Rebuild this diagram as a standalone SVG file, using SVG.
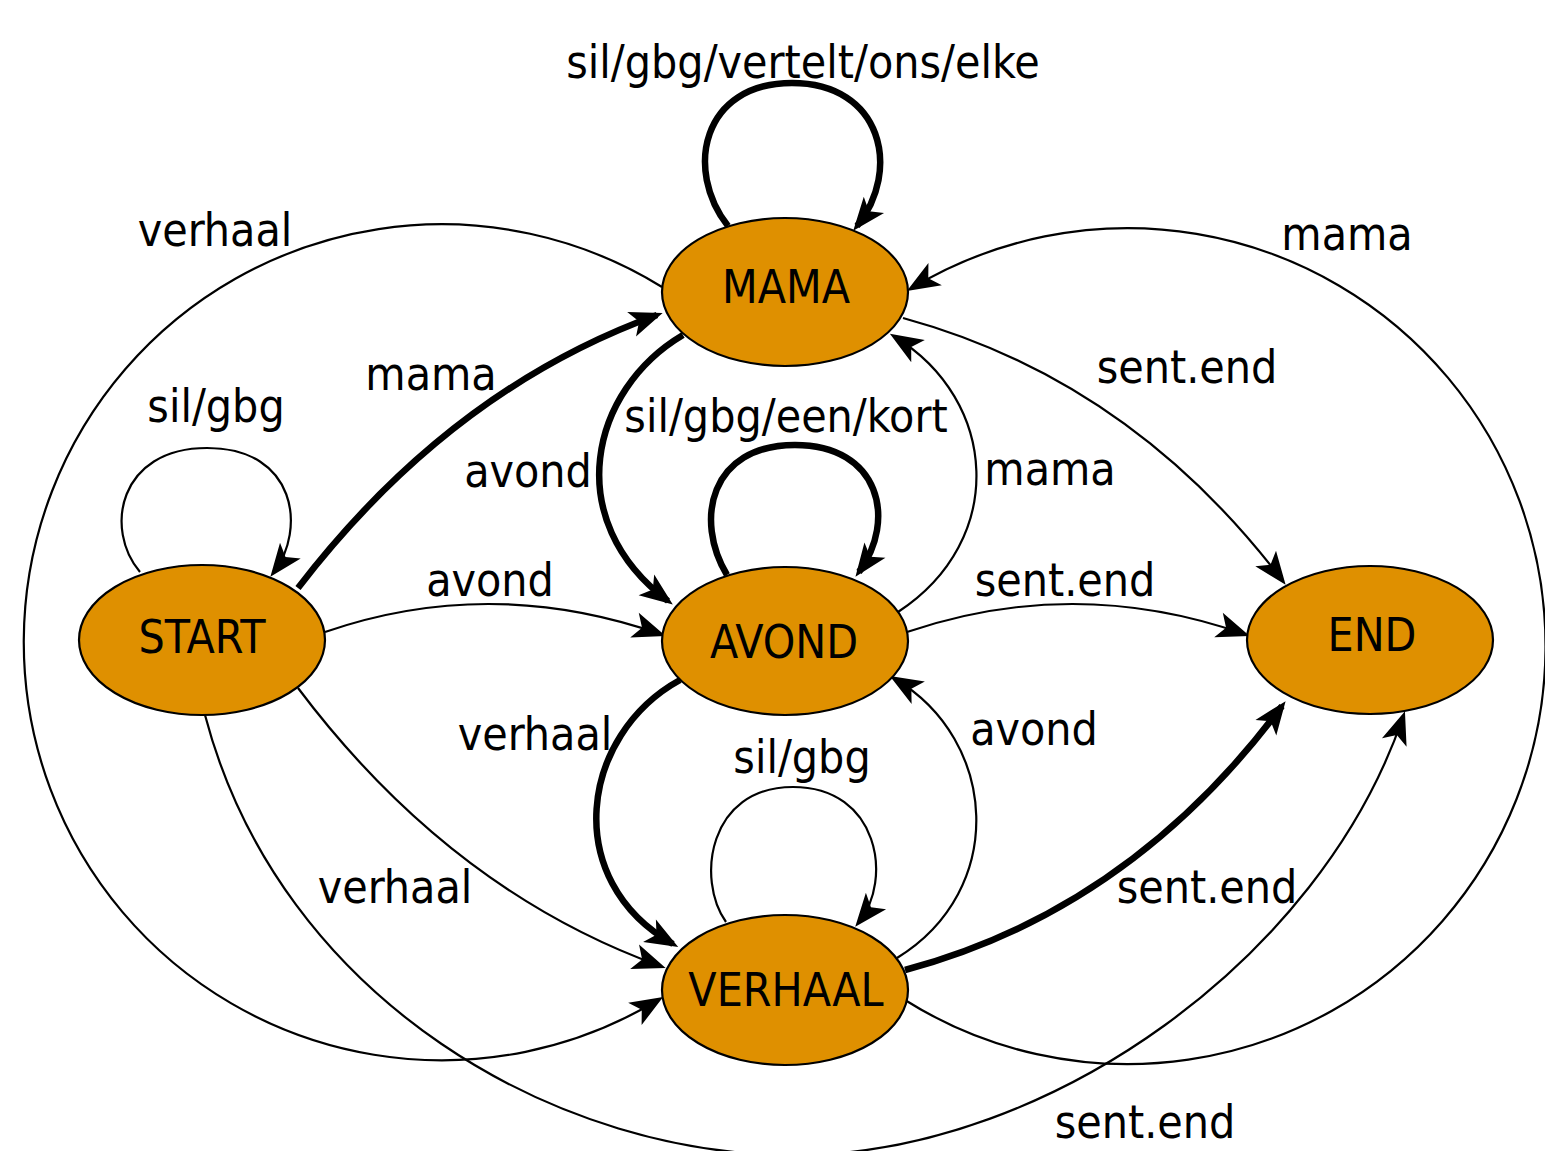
<svg xmlns="http://www.w3.org/2000/svg" width="1545" height="1151" viewBox="0 0 1545 1151">
<style>
  .node { fill: #DF9000; stroke: #000; stroke-width: 2.2; }
  .nlabel { font-family: 'DejaVu Sans Condensed', 'DejaVu Sans', sans-serif; font-size: 46px; fill: #000; text-anchor: middle; }
  .elabel { font-family: 'DejaVu Sans Condensed', 'DejaVu Sans', sans-serif; font-size: 46px; fill: #000; text-anchor: middle; }
  .thin { fill: none; stroke: #000; stroke-width: 2.2; marker-end: url(#arrow); }
  .thick { fill: none; stroke: #000; stroke-width: 6.5; marker-end: url(#arrow); }
</style>
<defs>
  <marker id="arrow" markerUnits="userSpaceOnUse" orient="auto" refX="0" refY="0" markerWidth="60" markerHeight="60" viewBox="-40 -20 60 40" overflow="visible">
    <path d="M6,0 L-27,-13 L-19,0 L-27,13 Z" fill="#000"/>
  </marker>
</defs>
<rect width="1545" height="1151" fill="#fff"/>
<g id="connectors">
  <!-- big left: MAMA -> VERHAAL -->
  <path class="thin" d="M662,287 A418,418 0 1,0 658,1000"/>
  <!-- big right: VERHAAL -> MAMA -->
  <path class="thin" d="M905,1000 A418,418 0 1,0 912,288"/>
  <!-- START -> END bottom -->
  <path class="thin" d="M205,715 C280,1000 560,1160 805,1155 C1050,1150 1320,960 1403,717"/>
  <!-- self loops -->
  <path class="thick" d="M728,226 C684,170 702,83 792,83 C882,83 902,170 857,226"/>
  <path class="thick" d="M727,575 C694,520 710,445 795,445 C880,445 897,520 859,572"/>
  <path class="thin" d="M140,572 C104,530 118,448 207,448 C297,448 306,530 274,572"/>
  <path class="thin" d="M726,922 C696,880 708,787 793,787 C879,787 893,880 859,922"/>
  <!-- START -> MAMA -->
  <path class="thick" d="M298,588 Q450,390 657,315"/>
  <!-- START -> AVOND -->
  <path class="thin" d="M325,632 Q490,575 660,634"/>
  <!-- START -> VERHAAL -->
  <path class="thin" d="M298,688 Q450,890 660,966"/>
  <!-- MAMA -> AVOND -->
  <path class="thick" d="M683,335 C590,390 560,520 668,601"/>
  <!-- AVOND -> MAMA -->
  <path class="thin" d="M898,612 C1008,540 998,400 895,337"/>
  <!-- AVOND -> VERHAAL -->
  <path class="thick" d="M680,680 C580,735 560,880 673,944"/>
  <!-- VERHAAL -> AVOND -->
  <path class="thin" d="M897,958 C1008,890 998,740 895,679"/>
  <!-- MAMA -> END -->
  <path class="thin" d="M903,318 Q1130,380 1282,580"/>
  <!-- AVOND -> END -->
  <path class="thin" d="M907,632 Q1075,575 1244,634"/>
  <!-- VERHAAL -> END -->
  <path class="thick" d="M905,970 Q1130,910 1282,706"/>
</g>
<g id="edge-labels">
  <text class="elabel" x="803" y="78">sil/gbg/vertelt/ons/elke</text>
  <text class="elabel" x="215" y="246">verhaal</text>
  <text class="elabel" x="1347" y="250">mama</text>
  <text class="elabel" x="431" y="390">mama</text>
  <text class="elabel" x="216" y="422">sil/gbg</text>
  <text class="elabel" x="1187" y="383">sent.end</text>
  <text class="elabel" x="786" y="432">sil/gbg/een/kort</text>
  <text class="elabel" x="528" y="487">avond</text>
  <text class="elabel" x="1050" y="485">mama</text>
  <text class="elabel" x="490" y="596">avond</text>
  <text class="elabel" x="1065" y="596">sent.end</text>
  <text class="elabel" x="535" y="750">verhaal</text>
  <text class="elabel" x="1034" y="745">avond</text>
  <text class="elabel" x="802" y="773">sil/gbg</text>
  <text class="elabel" x="395" y="903">verhaal</text>
  <text class="elabel" x="1207" y="903">sent.end</text>
  <text class="elabel" x="1145" y="1138">sent.end</text>
</g>
<g id="MAMA">
  <ellipse class="node" cx="785" cy="292" rx="123" ry="74"/>
  <text class="nlabel" x="786" y="303">MAMA</text>
</g>
<g id="AVOND">
  <ellipse class="node" cx="785" cy="641" rx="123" ry="74"/>
  <text class="nlabel" x="784" y="658">AVOND</text>
</g>
<g id="VERHAAL">
  <ellipse class="node" cx="785" cy="990" rx="123" ry="75"/>
  <text class="nlabel" x="786" y="1006">VERHAAL</text>
</g>
<g id="START">
  <ellipse class="node" cx="202" cy="640" rx="123" ry="75"/>
  <text class="nlabel" x="202" y="653">START</text>
</g>
<g id="END">
  <ellipse class="node" cx="1370" cy="640" rx="123" ry="74"/>
  <text class="nlabel" x="1372" y="651">END</text>
</g>
</svg>
